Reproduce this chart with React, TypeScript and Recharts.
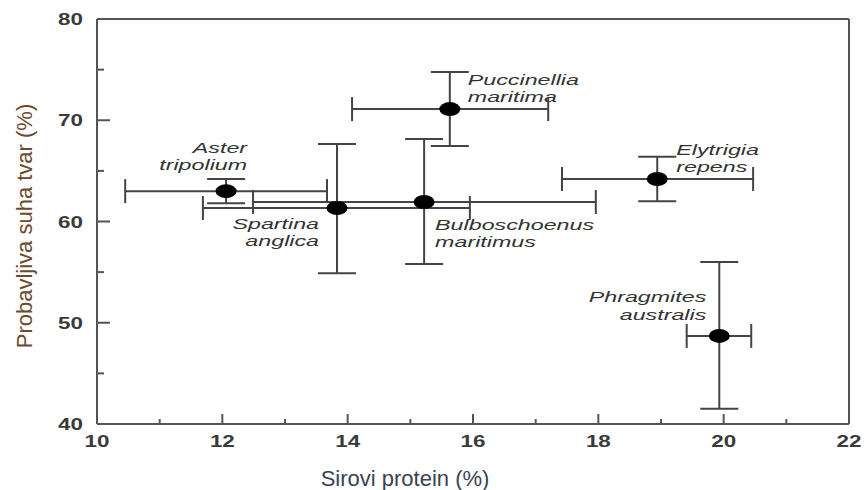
import { ScatterChart, Scatter, XAxis, YAxis, ErrorBar, ReferenceLine } from 'recharts'

// crude protein (%) vs digestible dry matter (%), means with ranges
const species = [
  'Aster tripolium',
  'Spartina anglica',
  'Bulboschoenus maritimus',
  'Puccinellia maritima',
  'Elytrigia repens',
  'Phragmites australis',
]
const protein = [12.06, 13.83, 15.22, 15.63, 18.94, 19.93]
const proteinLow = [10.45, 11.69, 12.49, 14.07, 17.42, 19.41]
const proteinHigh = [13.67, 15.95, 17.96, 17.2, 20.47, 20.44]
const digestible = [63.0, 61.33, 61.93, 71.1, 64.2, 48.7]
const digestibleLow = [61.8, 54.9, 55.8, 67.46, 62.0, 41.5]
const digestibleHigh = [64.2, 67.65, 68.15, 74.77, 66.4, 56.0]

const xTicks = [10, 11, 12, 13, 14, 15, 16, 17, 18, 19, 20, 21, 22]
const yTicks = [40, 45, 50, 55, 60, 65, 70, 75, 80]
const xMajor = [10, 12, 14, 16, 18, 20, 22]
const yMajor = [40, 50, 60, 70, 80]

const data = species.map((name, i) => ({
  name,
  x: protein[i],
  y: digestible[i],
  errX: [protein[i] - proteinLow[i], proteinHigh[i] - protein[i]],
  errY: [digestible[i] - digestibleLow[i], digestibleHigh[i] - digestible[i]],
}))

// where each species name sits next to its point
const labelPlacement: Record<string, { anchor: 'start' | 'end'; dx: number; dy: number[] }> = {
  'Aster tripolium': { anchor: 'end', dx: 21, dy: [-38, -21] },
  'Spartina anglica': { anchor: 'end', dx: -18, dy: [21, 38] },
  'Bulboschoenus maritimus': { anchor: 'start', dx: 11, dy: [28, 45] },
  'Puccinellia maritima': { anchor: 'start', dx: 18, dy: [-24, -7] },
  'Elytrigia repens': { anchor: 'start', dx: 19, dy: [-24, -7] },
  'Phragmites australis': { anchor: 'end', dx: -13, dy: [-34, -16] },
}

const FONT = '"Liberation Sans", Arial, sans-serif'
const AXIS = '#555'

const SpeciesDot = (props: any) => {
  const { cx, cy, payload } = props
  const p = labelPlacement[payload.name]
  const lines = payload.name.split(' ')
  return (
    <g>
      <ellipse cx={cx} cy={cy} rx={10.5} ry={7} fill="#000" />
      {lines.map((line: string, i: number) => (
        <g key={i} transform={`translate(${cx + p.dx},${cy + p.dy[i]}) scale(1.5,1)`}>
          <text textAnchor={p.anchor} fontStyle="italic" fontSize={15.5} fill="#333" fontFamily={FONT}>
            {line}
          </text>
        </g>
      ))}
    </g>
  )
}

const XTick = (props: any) => {
  const { x, y, payload } = props
  const major = xMajor.includes(payload.value)
  return (
    <g>
      <line x1={x} y1={y} x2={x} y2={y - (major ? 10 : 5)} stroke={AXIS} strokeWidth={2} />
      {major && (
        <g transform={`translate(${x},${y + 23}) scale(1.4,1)`}>
          <text textAnchor="middle" fontSize={16} fontWeight="bold" fill="#3a3a3a" fontFamily={FONT}>
            {payload.value}
          </text>
        </g>
      )}
    </g>
  )
}

const YTick = (props: any) => {
  const { x, y, payload } = props
  const major = yMajor.includes(payload.value)
  return (
    <g>
      <line x1={x} y1={y} x2={x + (major ? 13 : 7)} y2={y} stroke={AXIS} strokeWidth={2} />
      {major && (
        <g transform={`translate(${x - 14},${y + 6}) scale(1.4,1)`}>
          <text textAnchor="end" fontSize={16} fontWeight="bold" fill="#3a3a3a" fontFamily={FONT}>
            {payload.value}
          </text>
        </g>
      )}
    </g>
  )
}

export default function App() {
  return (
    <div style={{ position: 'absolute', left: 0, top: 0, width: 864, height: 490, background: '#fff' }}>
      <ScatterChart width={864} height={490} margin={{ top: 19, right: 15, bottom: 26, left: 37 }}>
        <XAxis
          type="number"
          dataKey="x"
          domain={[10, 22]}
          ticks={xTicks}
          interval={0}
          height={40}
          tickSize={0}
          tickMargin={0}
          tickLine={false}
          tick={<XTick />}
          axisLine={{ stroke: AXIS, strokeWidth: 2 }}
        />
        <YAxis
          type="number"
          dataKey="y"
          domain={[40, 80]}
          ticks={yTicks}
          interval={0}
          width={60}
          tickSize={0}
          tickMargin={0}
          tickLine={false}
          tick={<YTick />}
          axisLine={{ stroke: AXIS, strokeWidth: 2 }}
        />
        <ReferenceLine y={80} stroke={AXIS} strokeWidth={2} />
        <ReferenceLine x={22} stroke={AXIS} strokeWidth={2} />
        <Scatter data={data} shape={<SpeciesDot />} isAnimationActive={false}>
          <ErrorBar dataKey="errX" direction="x" width={12} stroke="#444" strokeWidth={2} isAnimationActive={false} />
          <ErrorBar dataKey="errY" direction="y" width={19} stroke="#444" strokeWidth={2} isAnimationActive={false} />
        </Scatter>
      </ScatterChart>
      <div
        style={{
          position: 'absolute',
          left: 25,
          top: 226,
          transform: 'translate(-50%, -50%) rotate(-90deg)',
          whiteSpace: 'nowrap',
          fontFamily: FONT,
          fontSize: 22,
          color: '#6b4a2e',
        }}
      >
        Probavljiva suha tvar (%)
      </div>
      <div
        style={{
          position: 'absolute',
          left: 405,
          top: 479,
          transform: 'translate(-50%, -50%)',
          whiteSpace: 'nowrap',
          fontFamily: FONT,
          fontSize: 22,
          color: '#3a4255',
        }}
      >
        Sirovi protein (%)
      </div>
    </div>
  )
}
